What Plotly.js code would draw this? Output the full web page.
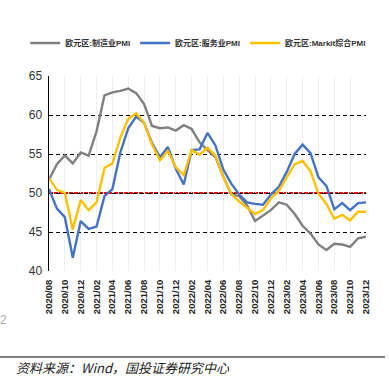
<!DOCTYPE html>
<html>
<head>
<meta charset="utf-8">
<script src="https://cdn.plot.ly/plotly-3.0.1.min.js"></script>
<style>
  html, body { margin: 0; padding: 0; background: #fff; }
  #chart { width: 389px; height: 382px; }
</style>
</head>
<body>
<div id="chart"></div>
<script>
const months = [
  "2020/08","2020/09","2020/10","2020/11","2020/12",
  "2021/01","2021/02","2021/03","2021/04","2021/05","2021/06","2021/07","2021/08","2021/09","2021/10","2021/11","2021/12",
  "2022/01","2022/02","2022/03","2022/04","2022/05","2022/06","2022/07","2022/08","2022/09","2022/10","2022/11","2022/12",
  "2023/01","2023/02","2023/03","2023/04","2023/05","2023/06","2023/07","2023/08","2023/09","2023/10","2023/11","2023/12"
];
const manufacturing = [
  51.7, 53.7, 54.8, 53.8, 55.2,
  54.8, 57.9, 62.5, 62.9, 63.1, 63.4, 62.8, 61.4, 58.6, 58.3, 58.4, 58.0,
  58.7, 58.2, 56.5, 55.5, 54.6, 52.1, 49.8, 49.6, 48.4, 46.4, 47.1, 47.8,
  48.8, 48.5, 47.3, 45.8, 44.8, 43.4, 42.7, 43.5, 43.4, 43.1, 44.2, 44.4
];
const services = [
  50.5, 48.0, 46.9, 41.7, 46.4,
  45.4, 45.7, 49.6, 50.5, 55.2, 58.3, 59.8, 59.0, 56.4, 54.6, 55.9, 53.1,
  51.1, 55.5, 55.6, 57.7, 56.1, 53.0, 51.2, 49.8, 48.8, 48.6, 48.5, 49.8,
  50.8, 52.7, 55.0, 56.2, 55.1, 52.0, 50.9, 47.9, 48.7, 47.8, 48.7, 48.8
];
const composite = [
  51.9, 50.4, 50.0, 45.3, 49.1,
  47.8, 48.8, 53.2, 53.8, 57.1, 59.5, 60.2, 59.0, 56.2, 54.2, 55.4, 53.3,
  52.3, 55.5, 54.9, 55.8, 54.8, 52.0, 49.9, 48.9, 48.1, 47.3, 47.8, 49.3,
  50.3, 52.0, 53.7, 54.1, 52.8, 49.9, 48.6, 46.7, 47.2, 46.5, 47.6, 47.6
];
const seriesNames = ["欧元区:制造业PMI", "欧元区:服务业PMI", "欧元区:Markit综合PMI"];
const yTicks = [40, 45, 50, 55, 60, 65];
const threshold = 50;
const xTicks = months.filter((m, i) => i % 2 === 0);

const colors = ["#808080", "#4472C4", "#FFC000"];
const narrow = "'Liberation Sans Narrow', 'Arial Narrow', 'Liberation Sans', sans-serif";

const traces = [manufacturing, services, composite].map((vals, i) => ({
  x: months,
  y: vals,
  type: "scatter",
  mode: "lines",
  name: seriesNames[i],
  line: { color: colors[i], width: 2.4 }
}));

const layout = {
  width: 389,
  height: 382,
  margin: { l: 49, r: 23, t: 76, b: 111 },
  paper_bgcolor: "#fff",
  plot_bgcolor: "#fff",
  showlegend: true,
  legend: {
    orientation: "h",
    x: -0.075, xanchor: "left",
    y: 1.169, yanchor: "middle",
    itemwidth: 30,
    tracegroupgap: 0,
    font: { family: narrow + ", 'Noto Sans CJK SC'", size: 8, color: "#333", weight: "bold" },
    bgcolor: "rgba(0,0,0,0)"
  },
  xaxis: {
    type: "category",
    range: [0, 40],
    tickvals: xTicks,
    ticktext: xTicks,
    tickangle: -90,
    tickfont: { family: "'Liberation Sans', Arial, sans-serif", size: 9.5, color: "#222", weight: "bold" },
    showgrid: true,
    gridcolor: "#efefef",
    gridwidth: 1,
    showline: true,
    linecolor: "rgba(0,0,0,0)",
    zeroline: false,
    ticks: "",
    ticklabelstandoff: 4,
    fixedrange: true
  },
  yaxis: {
    range: [40, 65],
    tickvals: yTicks,
    ticktext: yTicks.map(String),
    tickfont: { family: narrow, size: 12, color: "#333" },
    showgrid: true,
    gridcolor: "#000",
    gridwidth: 1,
    griddash: "4px,3px",
    showline: true,
    linecolor: "#000",
    linewidth: 1.5,
    zeroline: false,
    ticks: "",
    ticklabelstandoff: 3,
    fixedrange: true
  },
  shapes: [
    {
      type: "line", xref: "paper", x0: 0, x1: 1, yref: "y", y0: threshold, y1: threshold,
      line: { color: "#FF0000", width: 2.2, dash: "4px,1px" }, layer: "below"
    },
    {
      type: "line", xref: "paper", x0: -0.155, x1: 1.06, yref: "paper", y0: -0.441, y1: -0.441,
      line: { color: "#000", width: 1 }
    }
  ],
  annotations: [
    {
      xref: "paper", yref: "paper", x: -0.11, y: -0.497, xanchor: "left", yanchor: "middle",
      text: "<i>资料来源：Wind，国投证券研究中心</i>", showarrow: false,
      font: { family: "'Noto Sans CJK SC', sans-serif", size: 13, color: "#222" }
    },
    {
      xref: "paper", yref: "paper", x: -0.145, y: -0.251, xanchor: "center", yanchor: "middle",
      text: "2", showarrow: false,
      font: { family: "'Liberation Sans', sans-serif", size: 12, color: "#aaa" }
    }
  ]
};

Plotly.newPlot("chart", traces, layout, { displayModeBar: false, staticPlot: true });
</script>
</body>
</html>
